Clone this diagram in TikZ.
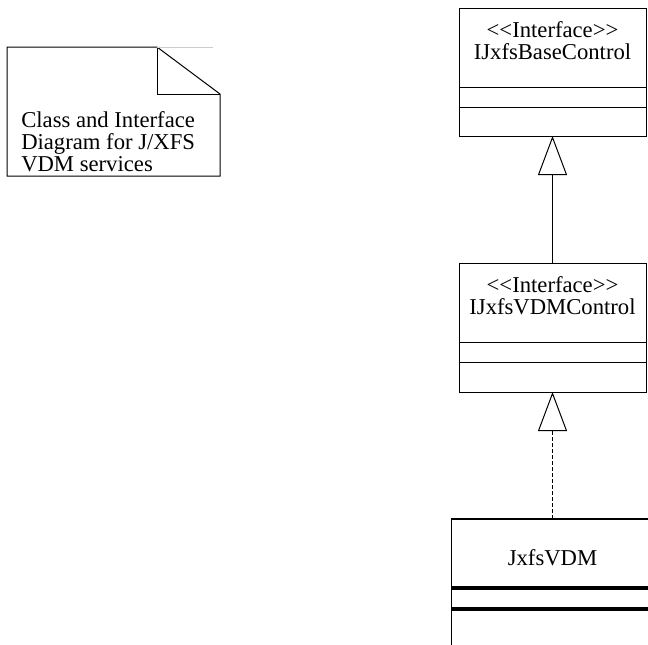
\documentclass[tikz,border=0pt]{standalone}
\usepackage{fontspec}
\setmainfont{Liberation Serif}
\usetikzlibrary{positioning}
\usetikzlibrary{arrows.meta}
\newcommand{\umlstereo}[1]{<\kern0pt<#1>\kern0pt>}
\tikzset{compart/.style = {draw, line width=0.75pt, minimum width=140.25pt,
                           inner sep=0pt, outer sep=0pt},
         umlfont/.style = {font=\fontsize{17}{16.5}\selectfont},
         generalize/.style = {-{Triangle[open, length=29.25pt, width=21.75pt]},
                              line width=0.75pt},
         heavy/.style = {line width=3pt}}

\begin{document}
\begin{tikzpicture}[x=0.75pt, y=-0.75pt]
    \useasboundingbox (0,0) rectangle (648,644);
    \clip (0,0) rectangle (648,644);
    % note
    \draw [line width=0.75pt] (7,47) -- (157,47) -- (220,94) -- (220,176) -- (7,176) -- cycle;
    \draw [line width=0.75pt] (157,47) |- (220,94);
    \draw [gray!40, line width=0.75pt] (157,47) -- (213,47);
    \node [umlfont, align=left, anchor=north west, inner sep=0pt] (notetext) at (21,111)
          {Class and Interface\\Diagram for J/XFS\\VDM services};
    % interfaces
    \node [compart, umlfont, align=center, minimum height=59.25pt, text depth=9.75pt,
           anchor=north] (basename) at (552.5,8)
          {\umlstereo{Interface}\\IJxfsBaseControl};
    \node [compart, minimum height=15pt, below=0pt of basename] (baseattr) {};
    \node [compart, minimum height=21.75pt, below=0pt of baseattr] (baseop) {};
    \node [compart, umlfont, align=center, minimum height=59.25pt, text depth=9.75pt,
           anchor=north] (ctrlname) at (552.5,263)
          {\umlstereo{Interface}\\IJxfsVDMControl};
    \node [compart, minimum height=15pt, below=0pt of ctrlname] (ctrlattr) {};
    \node [compart, minimum height=22.5pt, below=0pt of ctrlattr] (ctrlop) {};
    % class
    \node [compart, umlfont, minimum width=152.25pt, minimum height=51.75pt,
           text height=18pt, anchor=north] (vdmname) at (552.5,519) {JxfsVDM};
    \node [compart, minimum width=152.25pt, minimum height=15.75pt,
           below=0pt of vdmname] (vdmattr) {};
    \node [compart, minimum width=152.25pt, minimum height=40pt,
           below=0pt of vdmattr] (vdmop) {};
    \draw [line width=1.5pt] (vdmname.north west) -- (vdmname.north east);
    \draw [heavy] (vdmattr.north west) -- (vdmattr.north east);
    \draw [heavy] (vdmop.north west) -- (vdmop.north east);
    % relations
    \draw [generalize] (ctrlname.north) -- (baseop.south);
    \draw [generalize, dash pattern=on 3pt off 1.5pt] (vdmname.north) -- (ctrlop.south);
\end{tikzpicture}
\end{document}
